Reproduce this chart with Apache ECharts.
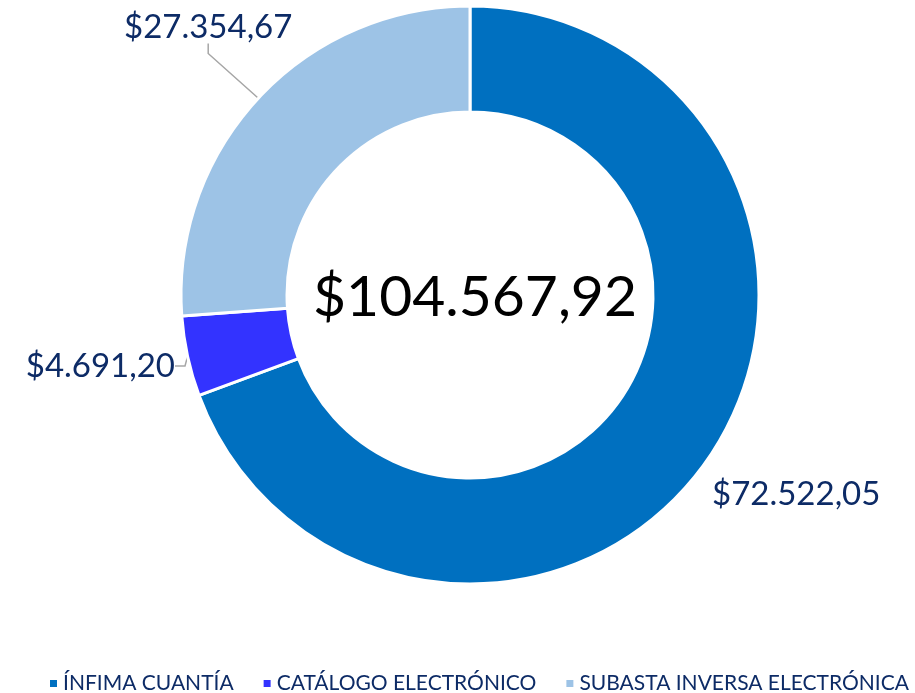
<!DOCTYPE html>
<html>
<head>
<meta charset="utf-8">
<script src="https://cdn.jsdelivr.net/npm/echarts@6/dist/echarts.min.js"></script>
<style>
  html, body { margin: 0; padding: 0; background: #fff; }
  #chart { width: 915px; height: 693px; }
</style>
</head>
<body>
<div id="chart"></div>
<script>
const categories = ['ÍNFIMA CUANTÍA', 'CATÁLOGO ELECTRÓNICO', 'SUBASTA INVERSA ELECTRÓNICA'];
const values = [72522.05, 4691.20, 27354.67];
const colors = ['#0070C0', '#3333FF', '#9DC3E6'];
const totalText = '$104.567,92';

// formato 12.345,67
function money(v) {
    const parts = v.toFixed(2).split('.');
    return '$' + parts[0].replace(/\B(?=(\d{3})+(?!\d))/g, '.') + ',' + parts[1];
}

// posiciones de las etiquetas (como en el original)
const labelPos = [
    { x: 712, y: 494, align: 'left' },
    { x: 175, y: 366, align: 'right' },
    { x: 124, y: 27, align: 'left' }
];

const chart = echarts.init(document.getElementById('chart'));
const font = 'Lato, "Open Sans", sans-serif';

const option = {
    color: colors,
    title: {
        text: totalText,
        left: 470,
        top: 293,
        textAlign: 'center',
        textVerticalAlign: 'middle',
        textStyle: { fontFamily: font, fontSize: 57, fontWeight: 'normal', color: '#000' }
    },
    legend: {
        top: 668,
        left: 43,
        itemWidth: 9,
        itemHeight: 9,
        itemGap: 28,
        icon: 'rect',
        textStyle: { fontFamily: font, fontSize: 21, color: '#0D2B66' }
    },
    series: [{
        type: 'pie',
        center: [470, 295],
        radius: [183, 289],
        startAngle: 90,
        clockwise: true,
        itemStyle: { borderColor: '#fff', borderWidth: 3 },
        label: {
            show: true,
            position: 'outside',
            formatter: p => money(p.value),
            fontFamily: font,
            fontSize: 33,
            color: '#0D2B66'
        },
        labelLine: {
            show: true,
            length: 10,
            length2: 10,
            lineStyle: { color: '#A6A6A6', width: 1.5 }
        },
        labelLayout: p => {
            const l = labelPos[p.dataIndex];
            return { x: l.x, y: l.y, align: l.align, verticalAlign: 'middle' };
        },
        emphasis: { disabled: true },
        data: categories.map((c, i) => ({
            name: c,
            value: values[i],
            labelLine: { show: i !== 0 }
        }))
    }]
};
chart.setOption(option);
</script>
</body>
</html>
